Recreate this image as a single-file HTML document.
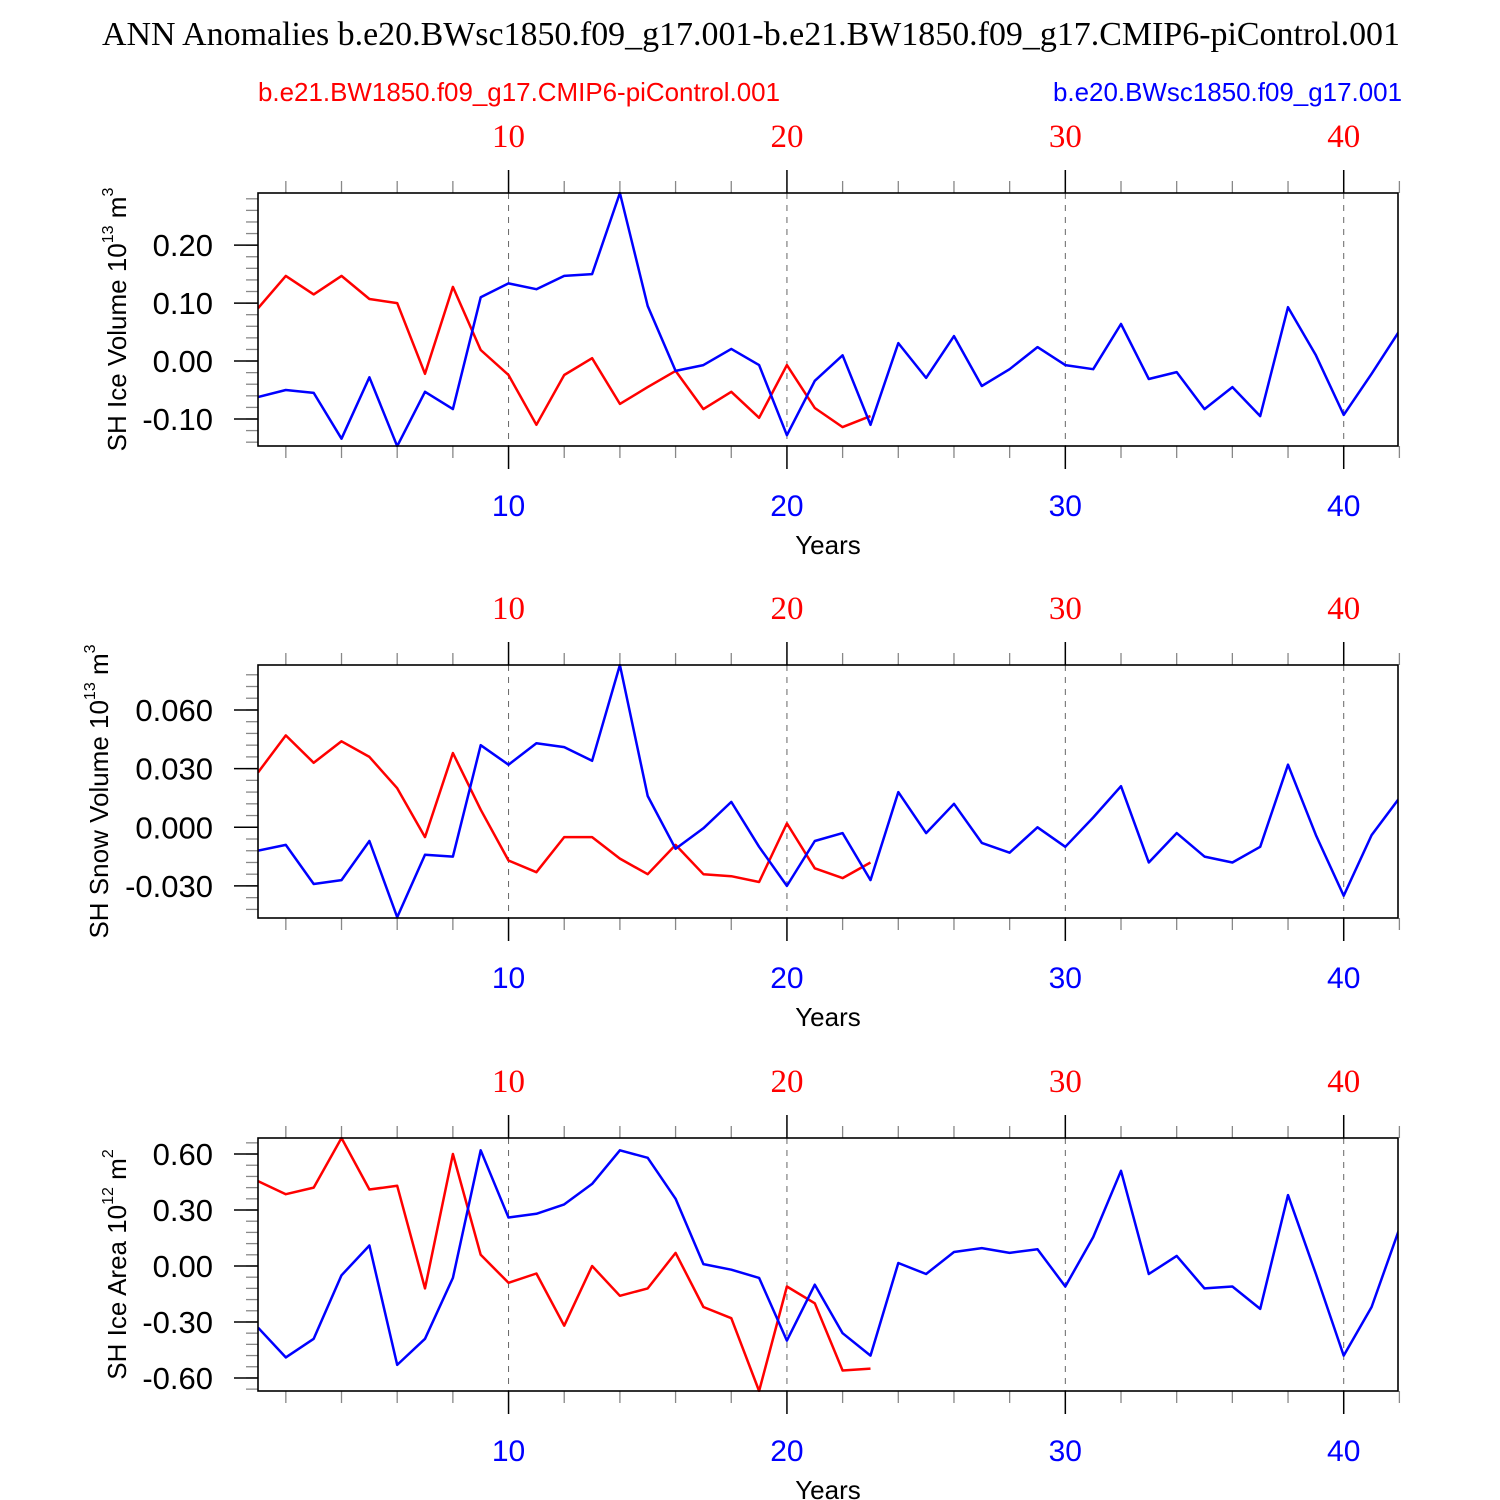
<!DOCTYPE html>
<html><head><meta charset="utf-8"><style>
html,body{margin:0;padding:0;background:#fff;}
svg{display:block;font-family:"Liberation Sans",sans-serif;}
</style></head><body>
<svg id="chart" width="1500" height="1500" viewBox="0 0 1500 1500" xmlns="http://www.w3.org/2000/svg">
<text x="751" y="45" text-anchor="middle" font-family="Liberation Serif, serif" font-size="34" textLength="1298" lengthAdjust="spacingAndGlyphs">ANN Anomalies b.e20.BWsc1850.f09_g17.001-b.e21.BW1850.f09_g17.CMIP6-piControl.001</text>
<text x="258" y="101" fill="#f00" font-size="26" textLength="522" lengthAdjust="spacingAndGlyphs">b.e21.BW1850.f09_g17.CMIP6-piControl.001</text>
<text x="1053" y="101" fill="#00f" font-size="26" textLength="349" lengthAdjust="spacingAndGlyphs">b.e20.BWsc1850.f09_g17.001</text>
</svg>
<script>
// Shared x data
const years = [1,2,3,4,5,6,7,8,9,10,11,12,13,14,15,16,17,18,19,20,21,22,23,24,25,26,27,28,29,30,31,32,33,34,35,36,37,38,39,40,41,42];
const xTickLabels = ["10","20","30","40"];
// Panel 1: SH Ice Volume
const iceVolBlue = [-0.062,-0.05,-0.055,-0.134,-0.028,-0.147,-0.053,-0.083,0.11,0.134,0.124,0.147,0.15,0.29,0.095,-0.017,-0.007,0.021,-0.007,-0.128,-0.034,0.01,-0.11,0.031,-0.029,0.043,-0.043,-0.014,0.024,-0.007,-0.014,0.064,-0.031,-0.019,-0.083,-0.045,-0.095,0.093,0.01,-0.093,-0.022,0.052];
const iceVolRed = [0.091,0.147,0.115,0.147,0.107,0.1,-0.022,0.128,0.019,-0.024,-0.11,-0.024,0.005,-0.074,-0.045,-0.017,-0.083,-0.053,-0.098,-0.007,-0.081,-0.114,-0.095];
const iceVolTicks = ["0.20","0.10","0.00","-0.10"];
// Panel 2: SH Snow Volume
const snowVolBlue = [-0.012,-0.009,-0.029,-0.027,-0.007,-0.046,-0.014,-0.015,0.042,0.032,0.043,0.041,0.034,0.083,0.016,-0.011,-0.0005,0.013,-0.01,-0.03,-0.007,-0.003,-0.027,0.018,-0.003,0.012,-0.008,-0.013,0,-0.01,0.005,0.021,-0.018,-0.003,-0.015,-0.018,-0.01,0.032,-0.004,-0.035,-0.004,0.015];
const snowVolRed = [0.028,0.047,0.033,0.044,0.036,0.02,-0.005,0.038,0.009,-0.017,-0.023,-0.005,-0.005,-0.016,-0.024,-0.009,-0.024,-0.025,-0.028,0.002,-0.021,-0.026,-0.018];
const snowVolTicks = ["0.060","0.030","0.000","-0.030"];
// Panel 3: SH Ice Area
const iceAreaBlue = [-0.33,-0.49,-0.39,-0.05,0.11,-0.53,-0.39,-0.064,0.62,0.26,0.28,0.33,0.44,0.62,0.58,0.36,0.01,-0.02,-0.064,-0.40,-0.1,-0.36,-0.48,0.016,-0.043,0.075,0.096,0.07,0.09,-0.11,0.155,0.51,-0.043,0.054,-0.12,-0.11,-0.23,0.38,-0.043,-0.48,-0.22,0.2];
const iceAreaRed = [0.455,0.385,0.42,0.686,0.41,0.43,-0.12,0.6,0.06,-0.09,-0.04,-0.32,0,-0.16,-0.12,0.07,-0.22,-0.28,-0.67,-0.11,-0.2,-0.56,-0.55];
const iceAreaTicks = ["0.60","0.30","0.00","-0.30","-0.60"];

const NS="http://www.w3.org/2000/svg";
const svg=document.getElementById('chart');
function mk(tag,attrs,parent){const e=document.createElementNS(NS,tag);for(const k in attrs)e.setAttribute(k,attrs[k]);(parent||svg).appendChild(e);return e;}

const L=258,R=1398, X0=1, X1=41.95;
const xs=v=>L+(v-X0)/(X1-X0)*(R-L);

const panels=[
 {name:'ice-volume',top:193,bot:446,ymin:-0.1466,ymax:0.29,blue:iceVolBlue,red:iceVolRed,ticks:iceVolTicks,minor:0.02,label:'SH Ice Volume 10',exp:'13',unit:' m',uexp:'3',lx:126},
 {name:'snow-volume',top:665,bot:918,ymin:-0.0464,ymax:0.083,blue:snowVolBlue,red:snowVolRed,ticks:snowVolTicks,minor:0.006,label:'SH Snow Volume 10',exp:'13',unit:' m',uexp:'3',lx:108},
 {name:'ice-area',top:1138,bot:1391,ymin:-0.67,ymax:0.686,blue:iceAreaBlue,red:iceAreaRed,ticks:iceAreaTicks,minor:0.06,label:'SH Ice Area 10',exp:'12',unit:' m',uexp:'2',lx:126}
];

panels.forEach(p=>{
 const g=mk('g',{});
 
 
 const ys=v=>p.bot-(v-p.ymin)/(p.ymax-p.ymin)*(p.bot-p.top);
 xTickLabels.forEach(t=>{
  const x=xs(+t);
  const gl=mk('line',{x1:x,x2:x,y1:p.top,y2:p.bot,stroke:'#666','stroke-width':1,'stroke-dasharray':'6,6'},g);
  
  
  mk('line',{x1:x,x2:x,y1:p.top-23,y2:p.top,stroke:'#000','stroke-width':1.5},g);
  mk('line',{x1:x,x2:x,y1:p.bot,y2:p.bot+23,stroke:'#000','stroke-width':1.5},g);
  const tt=mk('text',{x:x,y:p.top-46,'text-anchor':'middle',fill:'#f00','font-size':33,'font-family':'Liberation Serif, serif'},g);
  tt.textContent=t;
  
  
  const bt=mk('text',{x:x,y:p.bot+70,'text-anchor':'middle',fill:'#00f','font-size':30},g);
  bt.textContent=t;
  
  
 });
 for(let yr=2;yr<=42;yr+=2){
  if(yr%10===0)continue;
  const x=xs(yr);
  mk('line',{x1:x,x2:x,y1:p.top-12,y2:p.top,stroke:'#888','stroke-width':1.3},g);
  mk('line',{x1:x,x2:x,y1:p.bot,y2:p.bot+12,stroke:'#888','stroke-width':1.3},g);
 }
 const step=p.minor;
 for(let k=Math.ceil(p.ymin/step);k*step<=p.ymax+1e-9;k++){
  const y=ys(k*step);
  mk('line',{x1:L-12,x2:L,y1:y,y2:y,stroke:'#888','stroke-width':1.3},g);
 }
 p.ticks.forEach(t=>{
  const y=ys(+t);
  mk('line',{x1:L-24,x2:L,y1:y,y2:y,stroke:'#000','stroke-width':1.5},g);
  const tl=mk('text',{x:L-45,y:y+11,'text-anchor':'end','font-size':31},g);
  tl.textContent=t;
  
  
 });
 const pts=a=>a.map((v,i)=>xs(years[i]).toFixed(1)+','+ys(v).toFixed(1)).join(' ');
 const cp=mk('clipPath',{id:'clip-'+p.name},g);
 mk('rect',{x:L,y:p.top-1,width:R-L,height:p.bot-p.top+2},cp);
 const red=mk('polyline',{points:pts(p.red),fill:'none',stroke:'#f00','stroke-width':2.5,'stroke-linejoin':'round','clip-path':'url(#clip-'+p.name+')'},g);
 
 
 const blue=mk('polyline',{points:pts(p.blue),fill:'none',stroke:'#00f','stroke-width':2.5,'stroke-linejoin':'round','clip-path':'url(#clip-'+p.name+')'},g);
 
 
 const fr=mk('rect',{x:L,y:p.top,width:R-L,height:p.bot-p.top,fill:'none',stroke:'#000','stroke-width':1.6},g);
 
 
 const xt=mk('text',{x:828,y:p.bot+108,'text-anchor':'middle','font-size':26},g);
 xt.textContent='Years';
 
 
 const cy=(p.top+p.bot)/2;
 const yt=mk('text',{x:0,y:0,'text-anchor':'middle','font-size':26,transform:'translate('+p.lx+','+cy+') rotate(-90)'},g);
 
 
 const s1=mk('tspan',{},yt);s1.textContent=p.label;
 const s2=mk('tspan',{dy:-13,'font-size':16},yt);s2.textContent=p.exp;
 const s3=mk('tspan',{dy:13},yt);s3.textContent=p.unit;
 const s4=mk('tspan',{dy:-13,'font-size':16},yt);s4.textContent=p.uexp;
});
</script>
</body></html>
